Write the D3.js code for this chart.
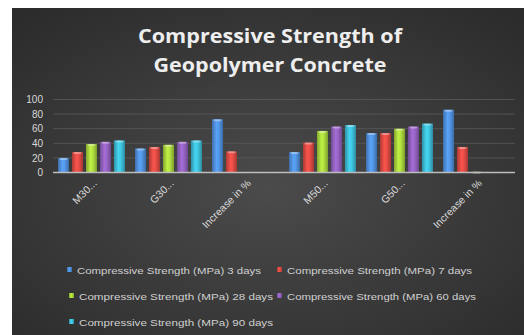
<!DOCTYPE html>
<html>
<head>
<meta charset="utf-8">
<script src="https://cdn.jsdelivr.net/npm/d3@7/dist/d3.min.js"></script>
<style>
  html, body { margin: 0; padding: 0; background: #ffffff; }
  svg { display: block; }
</style>
</head>
<body>
<svg id="chart" width="524" height="335"></svg>
<script>
// Categories along the x axis
const categories = ["M30...", "G30...", "Increase in %", "M50...", "G50...", "Increase in %"];

// Series names (legend) and their values per category
const seriesNames = [
  "Compressive Strength (MPa) 3 days",
  "Compressive Strength (MPa) 7 days",
  "Compressive Strength (MPa) 28 days",
  "Compressive Strength (MPa) 60 days",
  "Compressive Strength (MPa) 90 days"
];
const days3  = [20, 33, 73, 28, 54, 86];
const days7  = [28, 35, 29, 41, 54, 35];
const days28 = [39, 38, 0, 57, 60, 1];
const days60 = [42, 42, 0, 63, 63, 0];
const days90 = [44, 44, 0, 65, 67, 0];
const seriesValues = [days3, days7, days28, days60, days90];

// Y axis ticks
const yTicks = [0, 20, 40, 60, 80, 100];

const titleLines = ["Compressive Strength of", "Geopolymer Concrete"];

const colors = ["#4f8fdb", "#dc4a43", "#a8d43c", "#9160bd", "#3cbcd6"];

const svg = d3.select("#chart");
const defs = svg.append("defs");

// Dark panel background with a soft radial gradient
const bg = defs.append("radialGradient").attr("id", "bgGrad")
  .attr("cx", "50%").attr("cy", "55%").attr("r", "70%");
bg.append("stop").attr("offset", "0%").attr("stop-color", "#4b4b4b");
bg.append("stop").attr("offset", "100%").attr("stop-color", "#2c2c2c");

svg.append("rect")
  .attr("x", 12).attr("y", 8).attr("width", 512).attr("height", 327)
  .attr("fill", "url(#bgGrad)");

// Cylinder-like shading for each series
colors.forEach((c, i) => {
  const g = defs.append("linearGradient").attr("id", "bar" + i)
    .attr("x1", "0%").attr("x2", "100%").attr("y1", "0%").attr("y2", "0%");
  const base = d3.color(c);
  g.append("stop").attr("offset", "0%").attr("stop-color", base.darker(0.7));
  g.append("stop").attr("offset", "40%").attr("stop-color", base.brighter(0.35));
  g.append("stop").attr("offset", "60%").attr("stop-color", base.brighter(0.2));
  g.append("stop").attr("offset", "100%").attr("stop-color", base.darker(0.8));
});

// Title
svg.append("g").selectAll("text").data(titleLines).join("text")
  .attr("x", 270).attr("y", (d, i) => 43 + i * 29)
  .attr("text-anchor", "middle")
  .attr("font-family", "'Open Sans', 'DejaVu Sans', sans-serif")
  .attr("font-weight", "bold")
  .attr("font-size", 20)
  .attr("fill", "#eeeeee")
  .attr("textLength", (d, i) => i === 0 ? 264 : 233)
  .attr("lengthAdjust", "spacingAndGlyphs")
  .text(d => d);

// Scales
const x0 = d3.scaleBand().domain(d3.range(categories.length))
  .range([53, 515]).paddingInner(0.13).paddingOuter(0.065);
const x1 = d3.scaleBand().domain(d3.range(seriesNames.length))
  .range([0, x0.bandwidth()]).paddingInner(0.21).paddingOuter(0);
const y = d3.scaleLinear().domain([0, 100]).range([172.5, 99.5]);

// Gridlines
svg.append("g").selectAll("line").data(yTicks.filter(t => t > 0)).join("line")
  .attr("x1", 53).attr("x2", 515)
  .attr("y1", d => y(d)).attr("y2", d => y(d))
  .attr("stroke", "#5a5a5a").attr("stroke-width", 0.8);

// Y axis labels
const yAxis = d3.axisLeft(y).tickValues(yTicks).tickSize(0).tickPadding(0);
const yg = svg.append("g").attr("transform", "translate(43,0)").call(yAxis);
yg.select(".domain").remove();
yg.selectAll("text")
  .attr("font-family", "'Liberation Sans', Arial, sans-serif")
  .attr("font-size", 10)
  .attr("fill", "#d8d8d8");

// Bars
const groups = svg.append("g").selectAll("g").data(categories).join("g")
  .attr("transform", (d, i) => `translate(${x0(i)},0)`);

groups.each(function (cat, ci) {
  const g = d3.select(this);
  const vals = seriesValues.map((s, si) => ({ si, v: s[ci] }));
  g.selectAll("rect.bar").data(vals).join("rect")
    .attr("class", "bar")
    .attr("x", d => x1(d.si))
    .attr("width", x1.bandwidth())
    .attr("y", d => y(d.v))
    .attr("height", d => y(0) - y(d.v))
    .attr("fill", d => `url(#bar${d.si})`);
  // light cap on top of each bar
  g.selectAll("rect.cap").data(vals.filter(d => d.v > 0)).join("rect")
    .attr("class", "cap")
    .attr("x", d => x1(d.si) + 1.5)
    .attr("width", x1.bandwidth() - 3)
    .attr("y", d => y(d.v))
    .attr("height", 2)
    .attr("rx", 1)
    .attr("fill", "#ffffff")
    .attr("opacity", 0.35);
});

// Baseline
svg.append("line")
  .attr("x1", 53).attr("x2", 515)
  .attr("y1", y(0)).attr("y2", y(0))
  .attr("stroke", "#bdbdbd").attr("stroke-width", 1.6);

// X axis labels, rotated
svg.append("g").selectAll("text").data(categories).join("text")
  .attr("transform", (d, i) => `translate(${x0(i) + x0.bandwidth() / 2 + 6},184) rotate(-45)`)
  .attr("text-anchor", "end")
  .attr("font-family", "'Liberation Sans', Arial, sans-serif")
  .attr("font-size", 10.5)
  .attr("fill", "#d8d8d8")
  .text(d => d);

// Legend
const legendPos = [
  { x: 70, y: 270 }, { x: 280, y: 270 },
  { x: 72, y: 296 }, { x: 280, y: 296 },
  { x: 72, y: 322 }
];
const legendWidths = [184, 185, 194, 189, 194];
const lg = svg.append("g").selectAll("g").data(seriesNames).join("g")
  .attr("transform", (d, i) => `translate(${legendPos[i].x},${legendPos[i].y})`);
lg.append("rect")
  .attr("x", -3).attr("y", -3).attr("width", 5).attr("height", 5)
  .attr("fill", (d, i) => `url(#bar${i})`);
lg.append("text")
  .attr("x", 7).attr("y", 3.5)
  .attr("font-family", "'Liberation Sans', Arial, sans-serif")
  .attr("font-size", 9.5)
  .attr("fill", "#d0d0d0")
  .attr("textLength", (d, i) => legendWidths[i])
  .attr("lengthAdjust", "spacingAndGlyphs")
  .text(d => d);
</script>
</body>
</html>
